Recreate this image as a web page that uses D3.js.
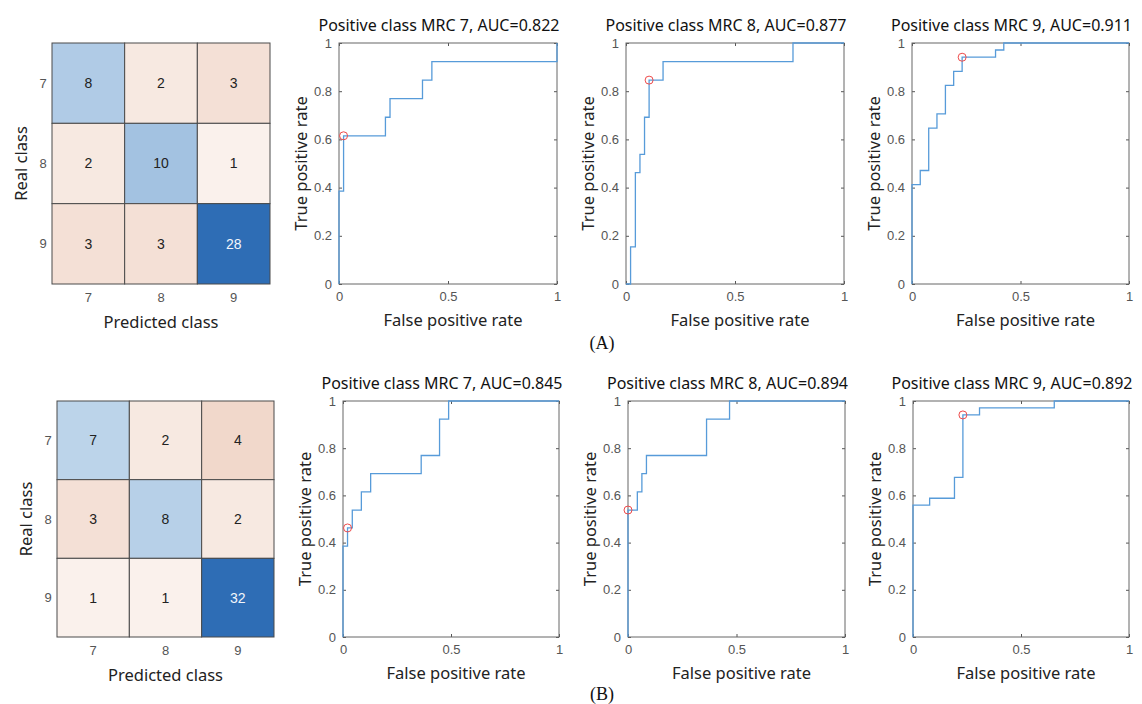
<!DOCTYPE html>
<html>
<head>
<meta charset="utf-8">
<script src="https://cdn.jsdelivr.net/npm/d3@7"></script>
<style>
  body { margin: 0; background: #fff; }
</style>
</head>
<body>
<script>
// class labels and confusion counts (rows = real class, cols = predicted)
const classes = ["7", "8", "9"];
const confA = [[8, 2, 3], [2, 10, 1], [3, 3, 28]];
const confB = [[7, 2, 4], [3, 8, 2], [1, 1, 32]];

// ROC curves: [fpr where the step happens, tpr after the step]
const rocA7 = [[0, 0], [0, 0.385], [0.021, 0.615], [0.213, 0.692], [0.234, 0.769], [0.383, 0.846], [0.426, 0.923], [1, 1]];
const rocA8 = [[0, 0], [0.021, 0.154], [0.043, 0.462], [0.064, 0.538], [0.085, 0.692], [0.106, 0.846], [0.170, 0.923], [0.766, 1], [1, 1]];
const rocA9 = [[0, 0], [0, 0.412], [0.038, 0.471], [0.077, 0.647], [0.115, 0.706], [0.154, 0.824], [0.192, 0.882], [0.231, 0.941], [0.385, 0.971], [0.423, 1], [1, 1]];
const rocB7 = [[0, 0], [0, 0.385], [0.021, 0.462], [0.043, 0.538], [0.085, 0.615], [0.128, 0.692], [0.362, 0.769], [0.447, 0.923], [0.489, 1], [1, 1]];
const rocB8 = [[0, 0], [0, 0.538], [0.043, 0.615], [0.064, 0.692], [0.085, 0.769], [0.362, 0.923], [0.468, 1], [1, 1]];
const rocB9 = [[0, 0], [0, 0.559], [0.077, 0.588], [0.192, 0.676], [0.231, 0.706], [0.231, 0.941], [0.308, 0.971], [0.654, 1], [1, 1]];

// operating points (red circles)
const opA = [[0.021, 0.615], [0.106, 0.846], [0.231, 0.941]];
const opB = [[0.021, 0.462], [0, 0.538], [0.231, 0.941]];

const titlesA = ["Positive class MRC 7, AUC=0.822", "Positive class MRC 8, AUC=0.877", "Positive class MRC 9, AUC=0.911"];
const titlesB = ["Positive class MRC 7, AUC=0.845", "Positive class MRC 8, AUC=0.894", "Positive class MRC 9, AUC=0.892"];

const xTicks = [0, 0.5, 1];
const yTicks = [0, 0.2, 0.4, 0.6, 0.8, 1];

const W = 1142, H = 704;
const labelFont = "'Noto Sans', sans-serif";
const tickFont = "'Liberation Sans', Arial, sans-serif";

const svg = d3.select("body").append("svg")
    .attr("width", W)
    .attr("height", H)
    .attr("viewBox", [0, 0, W, H]);

function drawMatrix(data, box) {
    const g = svg.append("g");
    const x = d3.scaleBand().domain(classes).range([box.x0, box.x1]);
    const y = d3.scaleBand().domain(classes).range([box.y0, box.y1]);
    const max = d3.max(data.flat());
    const diag = d3.scaleLinear().domain([0, max]).range(["#e4f1f9", "#2e6db5"]);
    const off = d3.scaleLinear().domain([0, 4]).range(["#fdf9f7", "#f1d8cb"]);

    const cells = [];
    data.forEach((row, i) => row.forEach((v, j) => cells.push({r: classes[i], c: classes[j], v, d: i === j})));

    g.selectAll("rect.cell").data(cells).join("rect")
        .attr("class", "cell")
        .attr("x", d => x(d.c))
        .attr("y", d => y(d.r))
        .attr("width", x.bandwidth())
        .attr("height", y.bandwidth())
        .attr("fill", d => d.d ? diag(d.v) : off(d.v))
        .attr("stroke", "#4a4a4a")
        .attr("stroke-width", 1);

    g.selectAll("text.val").data(cells).join("text")
        .attr("class", "val")
        .attr("x", d => x(d.c) + x.bandwidth() / 2)
        .attr("y", d => y(d.r) + y.bandwidth() / 2)
        .attr("dy", "0.35em")
        .attr("text-anchor", "middle")
        .style("font", `14px ${tickFont}`)
        .attr("fill", d => d.d && d.v / max > 0.5 ? "#f2f6fb" : "#222")
        .text(d => d.v);

    g.append("g")
        .selectAll("text").data(classes).join("text")
        .attr("x", box.x0 - 9)
        .attr("y", d => y(d) + y.bandwidth() / 2)
        .attr("dy", "0.35em")
        .attr("text-anchor", "middle")
        .style("font", `13px ${tickFont}`)
        .attr("fill", "#555")
        .text(d => d);

    g.append("g")
        .selectAll("text").data(classes).join("text")
        .attr("x", d => x(d) + x.bandwidth() / 2)
        .attr("y", box.y1 + 18)
        .attr("text-anchor", "middle")
        .style("font", `13px ${tickFont}`)
        .attr("fill", "#555")
        .text(d => d);

    g.append("text")
        .attr("x", (box.x0 + box.x1) / 2)
        .attr("y", box.y1 + 44)
        .attr("text-anchor", "middle")
        .style("font", `16.5px ${labelFont}`)
        .attr("fill", "#222")
        .text("Predicted class");

    g.append("text")
        .attr("transform", `translate(${box.x0 - 31},${(box.y0 + box.y1) / 2}) rotate(-90)`)
        .attr("dy", "0.35em")
        .attr("text-anchor", "middle")
        .style("font", `16.5px ${labelFont}`)
        .attr("fill", "#222")
        .text("Real class");
}

function drawRoc(pts, op, title, box) {
    const g = svg.append("g");
    const x = d3.scaleLinear().domain([0, 1]).range([box.x0, box.x1]);
    const y = d3.scaleLinear().domain([0, 1]).range([box.y1, box.y0]);
    const fmt = d3.format("~g");

    const styleAxis = a => a
        .call(s => s.select(".domain").remove())
        .call(s => s.selectAll(".tick line").attr("stroke", "#555"))
        .call(s => s.selectAll(".tick text").attr("fill", "#555").style("font", `13px ${tickFont}`));

    g.append("g")
        .attr("transform", `translate(0,${box.y1})`)
        .call(d3.axisBottom(x).tickValues(xTicks).tickFormat(fmt).tickSize(-3).tickPadding(8))
        .call(styleAxis);
    g.append("g")
        .attr("transform", `translate(0,${box.y0})`)
        .call(d3.axisTop(x).tickValues(xTicks).tickFormat("").tickSize(-3))
        .call(styleAxis);
    g.append("g")
        .attr("transform", `translate(${box.x0},0)`)
        .call(d3.axisLeft(y).tickValues(yTicks).tickFormat(fmt).tickSize(-3).tickPadding(7))
        .call(styleAxis);
    g.append("g")
        .attr("transform", `translate(${box.x1},0)`)
        .call(d3.axisRight(y).tickValues(yTicks).tickFormat("").tickSize(-3))
        .call(styleAxis);

    g.append("rect")
        .attr("x", box.x0)
        .attr("y", box.y0)
        .attr("width", box.x1 - box.x0)
        .attr("height", box.y1 - box.y0)
        .attr("fill", "none")
        .attr("stroke", "#666");

    g.append("path")
        .datum(pts)
        .attr("fill", "none")
        .attr("stroke", "#579bd9")
        .attr("stroke-width", 1.3)
        .attr("d", d3.line().x(d => x(d[0])).y(d => y(d[1])).curve(d3.curveStepAfter));

    g.append("circle")
        .attr("cx", x(op[0]))
        .attr("cy", y(op[1]))
        .attr("r", 4)
        .attr("fill", "none")
        .attr("stroke", "#ee4a4a")
        .attr("stroke-width", 1);

    g.append("text")
        .attr("x", (box.x0 + box.x1) / 2 - 9)
        .attr("y", box.y0 - 12)
        .attr("text-anchor", "middle")
        .style("font", `16px ${labelFont}`)
        .attr("fill", "#111")
        .text(title);

    g.append("text")
        .attr("x", (box.x0 + box.x1) / 2 + 5)
        .attr("y", box.y1 + 42)
        .attr("text-anchor", "middle")
        .style("font", `16.5px ${labelFont}`)
        .attr("fill", "#222")
        .text("False positive rate");

    g.append("text")
        .attr("transform", `translate(${box.x0 - 38},${(box.y0 + box.y1) / 2}) rotate(-90)`)
        .attr("dy", "0.35em")
        .attr("text-anchor", "middle")
        .style("font", `16.5px ${labelFont}`)
        .attr("fill", "#222")
        .text("True positive rate");
}

// panel A
drawMatrix(confA, {x0: 52, x1: 270, y0: 43, y1: 284});
const rocsA = [rocA7, rocA8, rocA9];
const boxesA = [{x0: 339, x1: 557}, {x0: 626, x1: 844}, {x0: 912, x1: 1129}];
boxesA.forEach((b, i) => drawRoc(rocsA[i], opA[i], titlesA[i], {...b, y0: 43, y1: 284}));

// panel B
drawMatrix(confB, {x0: 57, x1: 274, y0: 401, y1: 637});
const rocsB = [rocB7, rocB8, rocB9];
const boxesB = [{x0: 343, x1: 559}, {x0: 628, x1: 845}, {x0: 913, x1: 1129}];
boxesB.forEach((b, i) => drawRoc(rocsB[i], opB[i], titlesB[i], {...b, y0: 401, y1: 637}));

svg.append("text")
    .attr("x", 602)
    .attr("y", 349)
    .attr("text-anchor", "middle")
    .style("font", "18px 'Liberation Serif', serif")
    .attr("fill", "#111")
    .text("(A)");

svg.append("text")
    .attr("x", 602)
    .attr("y", 700)
    .attr("text-anchor", "middle")
    .style("font", "18px 'Liberation Serif', serif")
    .attr("fill", "#111")
    .text("(B)");
</script>
</body>
</html>
